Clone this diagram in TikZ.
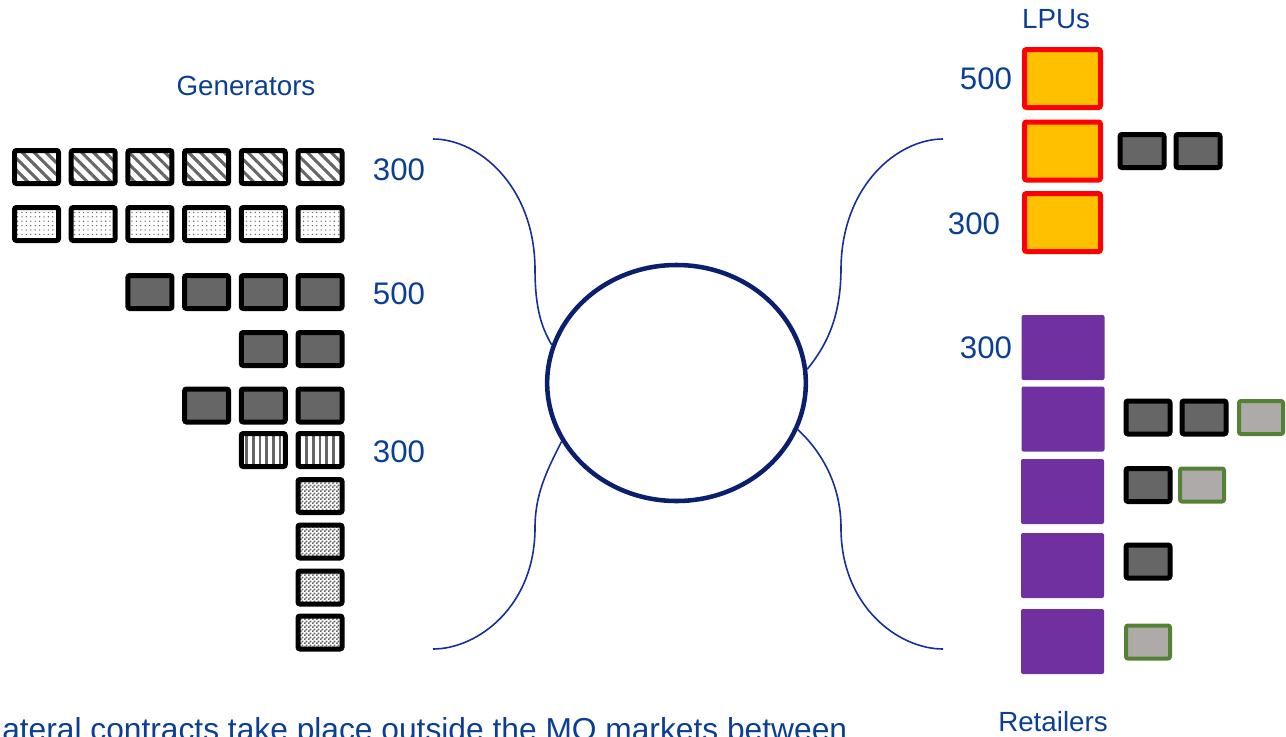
\documentclass[tikz,border=0pt]{standalone}
\usepackage{fontspec}
\setmainfont{Liberation Sans}
\usetikzlibrary{shapes.geometric,patterns,patterns.meta}
\definecolor{txtblue}{HTML}{0B3F94}
\definecolor{mkblue}{HTML}{0A1F6E}
\definecolor{lnblue}{HTML}{15309A}
\definecolor{dkgray}{HTML}{666666}
\definecolor{ltgray}{HTML}{AEAAAA}
\definecolor{grnb}{HTML}{548235}
\definecolor{orng}{HTML}{FFC000}
\definecolor{purp}{HTML}{7030A0}
\pgfdeclarepattern{
  name=finecheck,
  type=uncolored,
  bottom left={\pgfpoint{0pt}{0pt}},
  top right={\pgfpoint{3pt}{3pt}},
  tile size={\pgfpoint{3pt}{3pt}},
  code={
    \pgfpathrectangle{\pgfpoint{0pt}{0pt}}{\pgfpoint{1.5pt}{1.5pt}}
    \pgfpathrectangle{\pgfpoint{1.5pt}{1.5pt}}{\pgfpoint{1.5pt}{1.5pt}}
    \pgfusepath{fill}
  }
}
\begin{document}
\begin{tikzpicture}[x=0.75pt,y=-0.75pt,
  gbox/.style={draw=black, line width=3.75pt, rounded corners=1.5pt,
    minimum width=33pt, minimum height=24.75pt, inner sep=0pt},
  darkbox/.style={gbox, fill=dkgray},
  greenbox/.style={gbox, draw=grnb, line width=3pt, fill=ltgray},
  hatchbox/.style={gbox, pattern={Lines[angle=-45,distance=6.3pt,line width=2.3pt]}, pattern color=dkgray},
  dotbox/.style={gbox, pattern={Dots[distance=3.3pt,radius=0.55pt]}, pattern color=dkgray},
  vstripebox/.style={gbox, pattern={Lines[angle=90,distance=5pt,line width=2.2pt]}, pattern color=dkgray},
  checkbox/.style={gbox, pattern=finecheck, pattern color=dkgray},
  lpubox/.style={draw=red, line width=3.75pt, fill=orng, rounded corners=1.5pt,
    minimum width=57pt, minimum height=43.5pt, inner sep=0pt},
  retbox/.style={fill=purp, rounded corners=1.5pt,
    minimum width=62.25pt, minimum height=48.75pt, inner sep=0pt},
  lbl/.style={text=txtblue, font=\fontsize{23.4}{28}\selectfont, inner sep=0pt},
  ttl/.style={text=txtblue, font=\fontsize{20.8}{25}\selectfont, inner sep=0pt},
  conn/.style={draw=lnblue, line width=1.2pt},
]
\useasboundingbox (0,0) rectangle (1286,736);

% Generators
\node[ttl] (gen) at (246,86) {Generators};
\foreach \x [count=\i] in {36.5,93.2,149.9,206.6,263.3,320}{
  \node[hatchbox] (ga\i) at (\x,167) {};
  \node[dotbox] (gb\i) at (\x,224) {};
}
\foreach \x [count=\i] in {149.9,206.6,263.3,320}{
  \node[darkbox] (gc\i) at (\x,292) {};
}
\foreach \x [count=\i] in {263.3,320}{
  \node[darkbox] (gd\i) at (\x,349) {};
}
\foreach \x [count=\i] in {206.6,263.3,320}{
  \node[darkbox] (ge\i) at (\x,405.5) {};
}
\foreach \x [count=\i] in {263.3,320}{
  \node[vstripebox] (gf\i) at (\x,450) {};
}
\foreach \y [count=\i] in {496,541.5,587.5,632.5}{
  \node[checkbox] (gg\i) at (320,\y) {};
}
\node[lbl] (gl1) at (399,170) {300};
\node[lbl] (gl2) at (399,294) {500};
\node[lbl] (gl3) at (399,452) {300};

% Market
\node[ellipse, draw=mkblue, line width=3.4pt, minimum width=194pt,
  minimum height=177pt, inner sep=0pt] (mkt) at (676.5,383) {};

\coordinate (tl) at (433,139);
\coordinate (bl) at (433,649);
\coordinate (tr) at (943,139);
\coordinate (br) at (943,649);

\draw[conn] (tl) .. controls (478,139) and (534,185) .. (535,268)
  .. controls (535,310) and (542,328) .. (mkt.163);
\draw[conn] (mkt.207) .. controls (546,472) and (535,495) .. (535,528)
  .. controls (535,606) and (478,649) .. (bl);
\draw[conn] (tr) .. controls (898,139) and (842,185) .. (841,268)
  .. controls (841,318) and (826,346) .. (mkt.6);
\draw[conn] (mkt.339) .. controls (826,456) and (841,490) .. (841,528)
  .. controls (841,606) and (898,649) .. (br);

% LPUs
\node[ttl] (lpu) at (1056,19) {LPUs};
\node[lpubox] (l1) at (1062.5,78.5) {};
\node[lpubox] (l2) at (1062.5,151) {};
\node[lpubox] (l3) at (1062.5,222.5) {};
\node[darkbox] (ld1) at (1142,151) {};
\node[darkbox] (ld2) at (1198,151) {};
\node[lbl] (ll1) at (986,78.5) {500};
\node[lbl] (ll2) at (974,224) {300};

% Retailers
\node[retbox] (r1) at (1063,347.5) {};
\node[retbox] (r2) at (1063,419) {};
\node[retbox] (r3) at (1062.5,491.5) {};
\node[retbox] (r4) at (1062.5,565.5) {};
\node[retbox] (r5) at (1062.5,641.5) {};
\node[lbl] (rl1) at (986,347.5) {300};
\node[darkbox] (ra1) at (1148,417.5) {};
\node[darkbox] (ra2) at (1204,417.5) {};
\node[greenbox] (ra3) at (1261,417.5) {};
\node[darkbox] (rb1) at (1148,485) {};
\node[greenbox] (rb2) at (1202,485) {};
\node[darkbox] (rc1) at (1148,561.5) {};
\node[greenbox] (rd1) at (1148,642) {};
\node[ttl] (ret) at (1053,722) {Retailers};

% Bottom text
\node[text=txtblue, font=\fontsize{23.8}{28}\selectfont, inner sep=0pt,
  anchor=base west] (bt) at (2,740) {ateral contracts take place outside the MO markets between};
\end{tikzpicture}
\end{document}
